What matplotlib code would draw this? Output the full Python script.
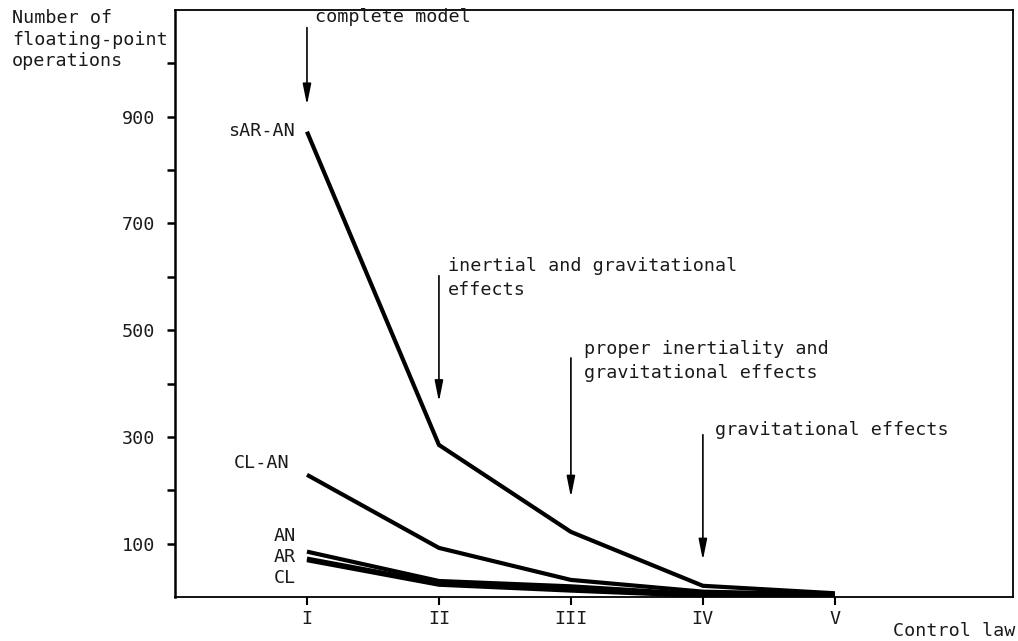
import matplotlib
matplotlib.use("Agg")
import matplotlib.pyplot as plt

# ---- data ----
control_laws = ["I", "II", "III", "IV", "V"]
sar_an = [872, 285, 122, 21, 7]
cl_an = [229, 92, 32, 10, 5]
an = [85, 30, 20, 5, 3]
ar = [72, 26, 15, 3, 2]
cl = [69, 23, 12, 2, 1]
y_ticks_major = [100, 300, 500, 700, 900]
y_ticks_minor = [200, 400, 600, 800, 1000]

FONT = "DejaVu Sans Mono"
FS = 13.2
TC = "#1a1a1a"
plt.rcParams["font.family"] = [FONT]

fig = plt.figure(figsize=(10.18, 6.41), dpi=100)
ax = fig.add_axes([175/1018, 1 - 597/641, (1013-175)/1018, (597-10)/641])

x = list(range(1, len(control_laws) + 1))
for series in (sar_an, cl_an, an, ar, cl):
    ax.plot(x, series, color="black", lw=3.0, solid_capstyle="butt", solid_joinstyle="miter")

ax.set_xlim(0, 6.35)
ax.set_ylim(0, 1100)
ax.set_xticks(x)
ax.set_xticklabels(control_laws, fontsize=FS, color=TC)
ax.set_yticks(y_ticks_major)
ax.set_yticklabels([str(v) for v in y_ticks_major], fontsize=FS, color=TC)
ax.set_yticks(y_ticks_minor, minor=True)
ax.tick_params(axis="y", which="both", direction="out", length=6, width=1.8, pad=8)
ax.tick_params(axis="x", direction="out", length=6, width=1.5, pad=3)
for s in ax.spines.values():
    s.set_linewidth(1.3)
ax.spines["left"].set_linewidth(1.8)

# curve labels
ax.text(0.91, 874, "sAR-AN", ha="right", va="center", fontsize=FS, color=TC)
ax.text(0.865, 251, "CL-AN", ha="right", va="center", fontsize=FS, color=TC)
ax.text(0.917, 114, "AN", ha="right", va="center", fontsize=FS, color=TC)
ax.text(0.917, 75, "AR", ha="right", va="center", fontsize=FS, color=TC)
ax.text(0.917, 36, "CL", ha="right", va="center", fontsize=FS, color=TC)

# annotations
def arrow(xv, y0, y1):
    ax.annotate("", xy=(xv, y1), xytext=(xv, y0),
                arrowprops=dict(arrowstyle="-|>,head_length=0.9,head_width=0.18",
                                lw=1.2, color="black", shrinkA=0, shrinkB=0,
                                mutation_scale=14))

ax.text(1.06, 1086, "complete model", ha="left", va="center", fontsize=FS, color=TC)
arrow(1, 1067, 922)
ax.text(2.066, 621, "inertial and gravitational", ha="left", va="center", fontsize=FS, color=TC)
ax.text(2.066, 576, "effects", ha="left", va="center", fontsize=FS, color=TC)
arrow(2, 602, 366)
ax.text(3.1, 465, "proper inertiality and", ha="left", va="center", fontsize=FS, color=TC)
ax.text(3.1, 420, "gravitational effects", ha="left", va="center", fontsize=FS, color=TC)
arrow(3, 448, 187)
ax.text(4.09, 313, "gravitational effects", ha="left", va="center", fontsize=FS, color=TC)
arrow(4, 304, 69)

# axis titles
fig.text(12/1018, 1 - 18/641, "Number of", ha="left", va="center", fontsize=FS, color=TC)
fig.text(12/1018, 1 - 40/641, "floating-point", ha="left", va="center", fontsize=FS, color=TC)
fig.text(12/1018, 1 - 61/641, "operations", ha="left", va="center", fontsize=FS, color=TC)
fig.text(1015/1018, 1 - 631/641, "Control law", ha="right", va="center", fontsize=FS, color=TC)

fig.savefig("out.png", dpi=100)
